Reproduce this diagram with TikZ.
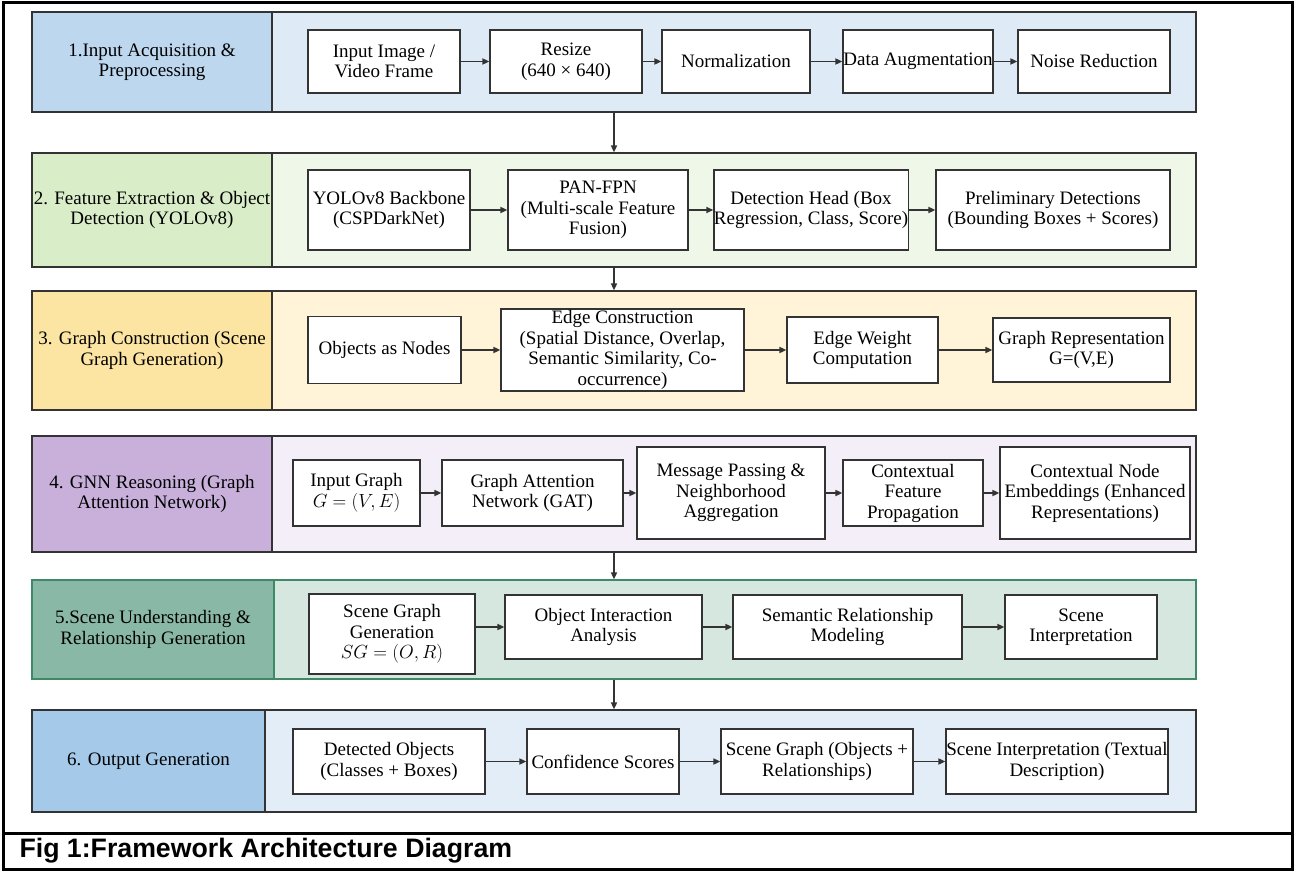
\documentclass[tikz,border=0pt]{standalone}
\usepackage{fix-cm}
\usepackage{fontspec}
\setmainfont{Liberation Serif}
\newfontfamily\capfont{Liberation Sans}
\usetikzlibrary{arrows.meta}

\definecolor{tagA}{HTML}{BDD7EE}\definecolor{panA}{HTML}{DEEBF7}
\definecolor{tagB}{HTML}{D9EDC8}\definecolor{panB}{HTML}{EFF7E8}
\definecolor{tagC}{HTML}{FCE5A2}\definecolor{panC}{HTML}{FFF3D8}
\definecolor{tagD}{HTML}{C8B0DB}\definecolor{panD}{HTML}{F3EEF7}
\definecolor{tagE}{HTML}{8AB8A6}\definecolor{panE}{HTML}{D6E7E0}
\definecolor{tagF}{HTML}{A5C9E9}\definecolor{panF}{HTML}{E2EDF8}
\definecolor{edgeE}{HTML}{3F8A66}
\definecolor{ink}{HTML}{333333}

\begin{document}
\begin{tikzpicture}[x=1pt, y=-1pt, >={Triangle[length=7pt,width=6pt]},
    band/.style={draw=ink, line width=1.2pt, inner sep=0pt, minimum width=1164},
    tag/.style={draw=ink, line width=1.2pt, inner sep=0pt, align=center, font=\fontsize{19}{20.5}\selectfont},
    stage/.style={draw=ink, line width=1.2pt, fill=white, inner sep=0pt, align=center, font=\fontsize{19}{20.5}\selectfont},
    flow/.style={->, line width=1.6pt, draw=ink}]

    \useasboundingbox (0,0) rectangle (1295,872);

    % Outer frame and caption
    \draw[line width=3pt] (3,3) rectangle (1292,869);
    \draw[line width=3pt] (3,833) -- (1292,833);
    \node[anchor=west, font=\capfont\bfseries\fontsize{26.7}{29}\selectfont] (caption) at (16,851) {Fig 1:Framework Architecture Diagram};

    % Bands
    \node[band, fill=panA, minimum height=100] (band1) at (614,62) {};
    \node[band, fill=panB, minimum height=114] (band2) at (614,210) {};
    \node[band, fill=panC, minimum height=119] (band3) at (614,350.5) {};
    \node[band, fill=panD, minimum height=116] (band4) at (614,494) {};
    \node[band, fill=panE, draw=edgeE, minimum height=99] (band5) at (614,629.5) {};
    \node[band, fill=panF, minimum height=102] (band6) at (614,761) {};

    % Stage labels
    \node[tag, fill=tagA, minimum width=240, minimum height=100] (tag1) at (152,62) {1.Input Acquisition \&\\Preprocessing};
    \node[tag, fill=tagB, minimum width=240, minimum height=114] (tag2) at (152,210) {2. Feature Extraction \& Object\\Detection (YOLOv8)};
    \node[tag, fill=tagC, minimum width=240, minimum height=119] (tag3) at (152,350.5) {3. Graph Construction (Scene\\Graph Generation)};
    \node[tag, fill=tagD, minimum width=240, minimum height=116] (tag4) at (152,494) {4. GNN Reasoning (Graph\\Attention Network)};
    \node[tag, fill=tagE, draw=edgeE, minimum width=242, minimum height=99] (tag5) at (153,629.5) {5.Scene Understanding \&\\Relationship Generation};
    \node[tag, fill=tagF, minimum width=233, minimum height=102] (tag6) at (148.5,761) {6. Output Generation};

    % Row 1: input acquisition
    \node[stage, minimum width=152, minimum height=63] (inimg) at (384,61.5) {Input Image /\\Video Frame};
    \node[stage, minimum width=152, minimum height=63] (resize) at (566,61.5) {Resize\\(640 × 640)};
    \node[stage, minimum width=148, minimum height=63] (norm) at (736,61.5) {Normalization};
    \node[stage, minimum width=150, minimum height=63] (augment) at (918,61.5) {Data Augmentation};
    \node[stage, minimum width=152, minimum height=63] (noise) at (1094,61.5) {Noise Reduction};
    \draw[flow] (inimg) -- (resize);
    \draw[flow] (resize) -- (norm);
    \draw[flow] (norm) -- (augment);
    \draw[flow] (augment) -- (noise);

    % Row 2: feature extraction
    \node[stage, minimum width=162, minimum height=80] (backbone) at (389,210) {YOLOv8 Backbone\\(CSPDarkNet)};
    \node[stage, minimum width=180, minimum height=80] (panfpn) at (598,210) {PAN-FPN\\(Multi-scale Feature\\Fusion)};
    \node[stage, minimum width=194, minimum height=80] (dethead) at (811,210) {Detection Head (Box\\Regression, Class, Score)};
    \node[stage, minimum width=234, minimum height=80] (prelim) at (1053,210) {Preliminary Detections\\(Bounding Boxes + Scores)};
    \draw[flow] (backbone) -- (panfpn);
    \draw[flow] (panfpn) -- (dethead);
    \draw[flow] (dethead) -- (prelim);

    % Row 3: graph construction
    \node[stage, minimum width=153, minimum height=67] (objnodes) at (384.5,350) {Objects as Nodes};
    \node[stage, minimum width=243, minimum height=82] (edgecons) at (622.5,350) {Edge Construction\\(Spatial Distance, Overlap,\\Semantic Similarity, Co-\\occurrence)};
    \node[stage, minimum width=151, minimum height=66] (edgeweight) at (862.5,350) {Edge Weight\\Computation};
    \node[stage, minimum width=177, minimum height=64] (graphrep) at (1081.5,350) {Graph Representation\\G=(V,E)};
    \draw[flow] (objnodes) -- (edgecons);
    \draw[flow] (edgecons) -- (edgeweight);
    \draw[flow] (edgeweight) -- (graphrep);

    % Row 4: GNN reasoning
    \node[stage, minimum width=127, minimum height=66] (ingraph) at (356.5,493) {Input Graph\\$G=(V,E)$};
    \node[stage, minimum width=181, minimum height=66] (gat) at (532.5,493) {Graph Attention\\Network (GAT)};
    \node[stage, minimum width=188, minimum height=92] (msgpass) at (731,493) {Message Passing \&\\Neighborhood\\Aggregation};
    \node[stage, minimum width=140, minimum height=66] (ctxfeat) at (913,493) {Contextual\\Feature\\Propagation};
    \node[stage, minimum width=190, minimum height=92] (embed) at (1095,493) {Contextual Node\\Embeddings (Enhanced\\Representations)};
    \draw[flow] (ingraph) -- (gat);
    \draw[flow] (gat) -- (msgpass);
    \draw[flow] (msgpass) -- (ctxfeat);
    \draw[flow] (ctxfeat) -- (embed);

    % Row 5: scene understanding
    \node[stage, minimum width=166, minimum height=80] (sgg) at (392,634) {Scene Graph\\Generation\\$SG=(O,R)$};
    \node[stage, minimum width=197, minimum height=64] (interact) at (603.5,627) {Object Interaction\\Analysis};
    \node[stage, minimum width=229, minimum height=64] (semantic) at (847.5,627) {Semantic Relationship\\Modeling};
    \node[stage, minimum width=152, minimum height=64] (sceneint) at (1081,627) {Scene\\Interpretation};
    \draw[flow] (sgg.east |- interact.west) -- (interact);
    \draw[flow] (interact) -- (semantic);
    \draw[flow] (semantic) -- (sceneint);

    % Row 6: output generation
    \node[stage, minimum width=192, minimum height=65] (detobj) at (389,761.5) {Detected Objects\\(Classes + Boxes)};
    \node[stage, minimum width=152, minimum height=65] (conf) at (603,761.5) {Confidence Scores};
    \node[stage, minimum width=192, minimum height=65] (sgraph) at (817,761.5) {Scene Graph (Objects +\\Relationships)};
    \node[stage, minimum width=222, minimum height=65] (textual) at (1057,761.5) {Scene Interpretation (Textual\\Description)};
    \draw[flow] (detobj) -- (conf);
    \draw[flow] (conf) -- (sgraph);
    \draw[flow] (sgraph) -- (textual);

    % Stage to stage
    \draw[flow] (band1) -- (band2);
    \draw[flow] (band2) -- (band3);
    \draw[flow] (band4) -- (band5);
    \draw[flow] (band5) -- (band6);

\end{tikzpicture}
\end{document}
